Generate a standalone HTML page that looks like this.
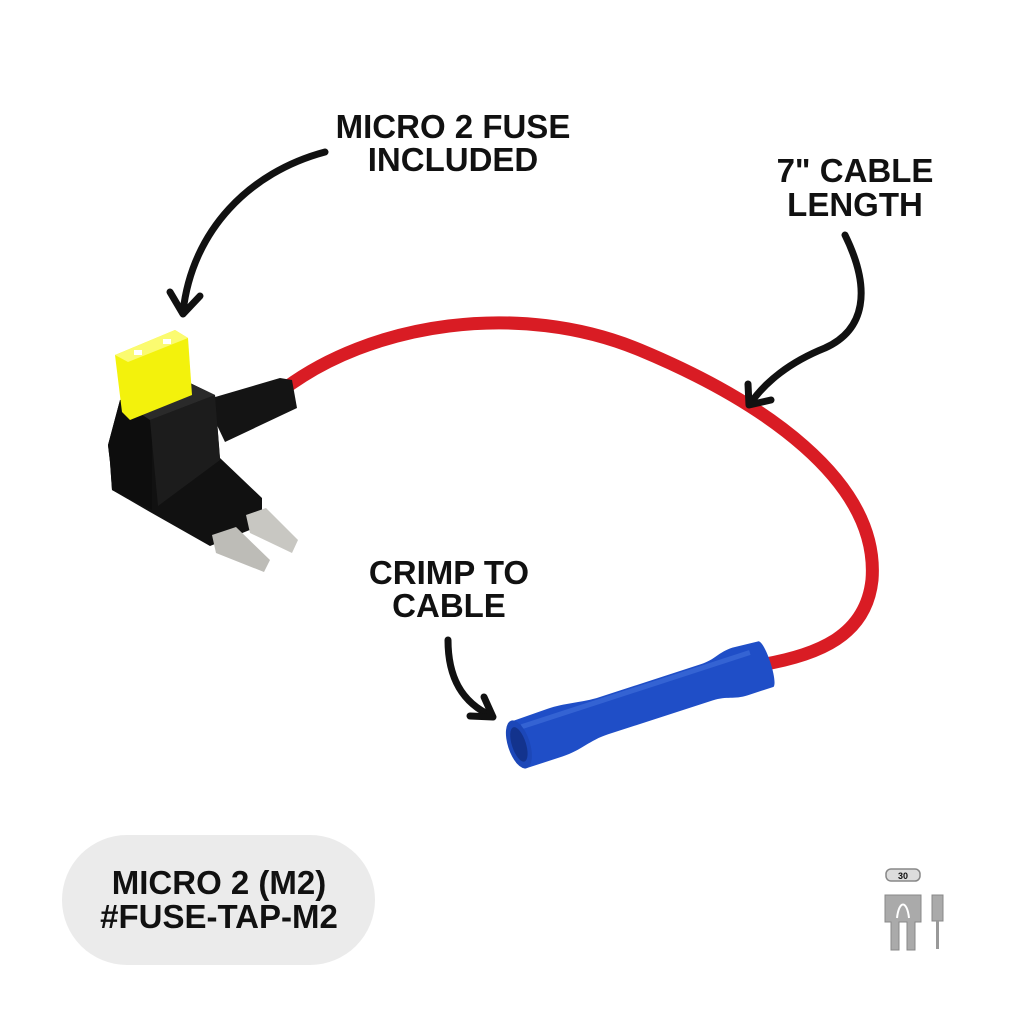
<!DOCTYPE html>
<html><head><meta charset="utf-8"><style>
html,body{margin:0;padding:0;background:#fff;}
svg{display:block}
text{font-family:"Liberation Sans",sans-serif;font-weight:bold;fill:#111;text-anchor:middle}
</style></head><body>
<svg width="1024" height="1024" viewBox="0 0 1024 1024" xmlns="http://www.w3.org/2000/svg">
<rect width="1024" height="1024" fill="#fff"/>
<path d="M280,392 C370,322 520,300 640,350 C760,400 880,480 872,580 C866,635 820,655 760,665" fill="none" stroke="#d91c24" stroke-width="13" stroke-linecap="round"/>
<g transform="translate(517,745) rotate(-18)">
<path d="M0,-24 L40,-25 C60,-25 70,-21 90,-20 L200,-20 C215,-20 220,-26 235,-26 L262,-24 C268,-20 268,20 262,24 L235,24 C220,24 215,18 200,18 L90,18 C70,18 60,25 40,25 L0,25 Z" fill="#1f4ec7"/>
<path d="M10,-16 L250,-16" stroke="#4a78e0" stroke-width="5" opacity="0.5"/>
<ellipse cx="2" cy="0" rx="11" ry="25" fill="#1c47b8"/>
<ellipse cx="2" cy="0" rx="7" ry="18" fill="#13338d"/>
</g>
<path d="M205,400 L280,378 L292,380 L297,408 L225,442 Z" fill="#141414"/>
<path d="M108,445 L120,400 L190,383 L215,395 L220,458 L262,498 L262,525 L210,546 L150,512 L112,490 L110,462 Z" fill="#111"/>
<path d="M108,445 L120,400 L152,420 L152,510 L112,490 L110,462 Z" fill="#0d0d0d"/>
<path d="M150,420 L215,395 L220,460 L158,506 Z" fill="#1c1c1c"/>
<path d="M120,400 L190,383 L215,395 L150,420 Z" fill="#2a2a2a"/>
<path d="M115,355 L175,330 L188,338 L192,395 L130,420 L122,412 Z" fill="#f3f20c"/>
<path d="M115,355 L175,330 L188,338 L128,362 Z" fill="#fbfb70"/>
<rect x="134" y="350" width="8" height="5" fill="#fff"/>
<rect x="163" y="339" width="8" height="5" fill="#fff"/>
<path d="M212,535 L236,527 L270,560 L264,572 L216,553 Z" fill="#bdbcb7"/>
<path d="M246,515 L266,508 L298,540 L292,553 L250,533 Z" fill="#c8c7c2"/>
<g fill="none" stroke="#111" stroke-width="7" stroke-linecap="round" stroke-linejoin="round">
<path d="M325,152 C250,172 192,230 183,312"/>
<path d="M170,292 L183,314 L200,296"/>
<path d="M845,235 C872,290 865,330 825,348 C790,362 765,382 750,404"/>
<path d="M748,384 L749,405 L771,400"/>
<path d="M448,640 C448,675 460,702 492,716"/>
<path d="M470,716 L493,717 L484,697"/>
</g>
<g font-size="33">
<text x="453" y="138">MICRO 2 FUSE</text>
<text x="453" y="171">INCLUDED</text>
<text x="855" y="182">7" CABLE</text>
<text x="855" y="216">LENGTH</text>
<text x="449" y="584">CRIMP TO</text>
<text x="449" y="617">CABLE</text>
</g>
<rect x="62" y="835" width="313" height="130" rx="65" fill="#ebebeb"/>
<g font-size="33">
<text x="219" y="894">MICRO 2 (M2)</text>
<text x="219" y="928">#FUSE-TAP-M2</text>
</g>
<rect x="886" y="869" width="34" height="12" rx="5" fill="#ddd" stroke="#888" stroke-width="1.5"/>
<text x="903" y="879" font-size="9">30</text>
<path d="M885,895 L921,895 L921,922 L915,922 L915,950 L907,950 L907,922 L899,922 L899,950 L891,950 L891,922 L885,922 Z" fill="#aaa" stroke="#888"/>
<path d="M897,918 C899,900 907,900 909,918" fill="none" stroke="#fff" stroke-width="2"/>
<rect x="932" y="895" width="11" height="26" fill="#aaa" stroke="#888"/>
<rect x="936" y="921" width="3" height="28" fill="#999"/>
</svg>
</body></html>
